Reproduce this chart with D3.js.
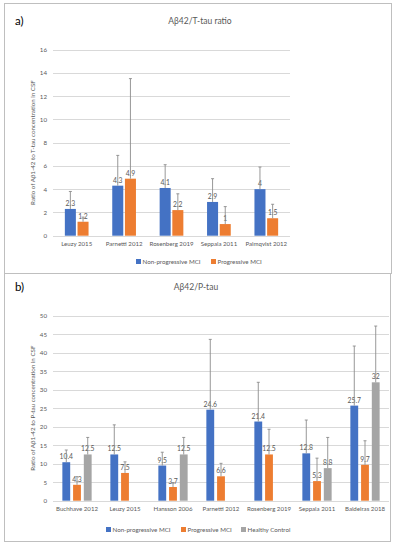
<!DOCTYPE html>
<html>
<head>
<meta charset="utf-8">
<script src="https://cdn.jsdelivr.net/npm/d3@7"></script>
<style>
  body { margin: 0; background: #fff; }
  svg { display: block; font-family: Lato, "Open Sans", sans-serif; }
  .tick text { fill: #595959; }
</style>
</head>
<body>
<svg id="chart" width="397" height="550"></svg>
<script>
// panel a) Aβ42/T-tau ratio
const studiesA = ['Leuzy 2015', 'Parnetti 2012', 'Rosenberg 2019', 'Seppala 2011', 'Palmqvist 2012'];
const nonProgA = [2.3, 4.3, 4.1, 2.9, 4];
const progA = [1.2, 4.9, 2.2, 1, 1.5];
const nonProgAErr = [1.5, 2.6, 2.0, 2.0, 1.9];
const progAErr = [0.4, 8.6, 1.4, 1.5, 1.2];
const ticksA = [0, 2, 4, 6, 8, 10, 12, 14, 16];

// panel b) Aβ42/P-tau
const studiesB = ['Buchhave 2012', 'Leuzy 2015', 'Hansson 2006', 'Parnetti 2012', 'Rosenberg 2019', 'Seppala 2011', 'Baldeiras 2018'];
const nonProgB = [10.4, 12.5, 9.5, 24.6, 21.4, 12.8, 25.7];
const progB = [4.3, 7.5, 3.7, 6.6, 12.5, 5.3, 9.7];
const healthyB = [12.5, null, 12.5, null, null, 8.8, 32];
const nonProgBErr = [3.3, 8, 3.6, 19, 10.6, 9, 16.1];
const progBErr = [2.2, 3, 1.2, 3.5, 6.8, 6.2, 6.5];
const healthyBErr = [4.6, null, 4.6, null, null, 8.3, 15.2];
const ticksB = [0, 5, 10, 15, 20, 25, 30, 35, 40, 45, 50];

const seriesNames = ['Non-progressive MCI', 'Progressive MCI', 'Healthy Control'];
const colors = ['#4472C4', '#ED7D31', '#A5A5A5'];

const svg = d3.select('#chart');

// frames
svg.append('rect').attr('x', 4.5).attr('y', 3.5).attr('width', 387).attr('height', 270)
  .attr('fill', 'none').attr('stroke', '#BFBFBF');
svg.append('rect').attr('x', 4.5).attr('y', 273.5).attr('width', 386).attr('height', 268)
  .attr('fill', 'none').attr('stroke', '#BFBFBF');

function drawPanel(cfg) {
  const g = svg.append('g');

  g.append('text')
    .attr('x', 15).attr('y', cfg.top - 25)
    .attr('font-size', 11.5).attr('fill', '#000')
    .text(cfg.letter);

  g.append('text')
    .attr('x', cfg.titleX).attr('y', cfg.top - 26)
    .attr('text-anchor', 'middle')
    .attr('font-size', 8.5).attr('fill', '#595959')
    .text(cfg.title);

  const y = d3.scaleLinear().domain([0, d3.max(cfg.ticks)]).range([cfg.bottom, cfg.top]);
  const x = d3.scaleBand().domain(cfg.studies).range([cfg.left, cfg.right])
    .paddingInner(cfg.padInner).paddingOuter(cfg.padInner / 2);
  const xs = d3.scaleBand().domain(d3.range(cfg.series.length)).range([0, x.bandwidth()])
    .paddingInner(cfg.barPad);

  // gridlines + y ticks
  g.append('g')
    .attr('class', 'grid')
    .selectAll('line')
    .data(cfg.ticks)
    .join('line')
    .attr('x1', cfg.left).attr('x2', cfg.gridRight)
    .attr('y1', d => Math.round(y(d)) + 0.5).attr('y2', d => Math.round(y(d)) + 0.5)
    .attr('stroke', '#D9D9D9');

  g.append('g')
    .attr('transform', `translate(${cfg.left - 4},0)`)
    .call(d3.axisLeft(y).tickValues(cfg.ticks).tickSize(0).tickPadding(2))
    .call(a => a.select('.domain').remove())
    .selectAll('text').attr('font-size', 6.2).attr('font-family', 'Lato, sans-serif');

  g.append('g')
    .attr('transform', `translate(0,${cfg.bottom})`)
    .call(d3.axisBottom(x).tickSize(0).tickPadding(6))
    .call(a => a.select('.domain').remove())
    .selectAll('text').attr('font-size', 6.1).attr('font-family', 'Lato, sans-serif');

  // y axis title
  g.append('text')
    .attr('transform', `translate(${cfg.axisTitleX},${(cfg.top + cfg.bottom) / 2}) rotate(-90)`)
    .attr('text-anchor', 'middle')
    .attr('font-size', 6.2).attr('fill', '#595959')
    .text(cfg.axisTitle);

  cfg.series.forEach((vals, si) => {
    const errs = cfg.errors[si];
    const sg = g.append('g');
    const rows = cfg.studies.map((s, i) => ({ s, v: vals[i], e: errs[i] })).filter(d => d.v != null);

    sg.selectAll('rect')
      .data(rows)
      .join('rect')
      .attr('x', d => x(d.s) + xs(si))
      .attr('y', d => y(d.v))
      .attr('width', xs.bandwidth())
      .attr('height', d => y(0) - y(d.v))
      .attr('fill', colors[si]);

    const cx = d => x(d.s) + xs(si) + xs.bandwidth() / 2;

    sg.selectAll('text.lbl')
      .data(rows)
      .join('text')
      .attr('class', 'lbl')
      .attr('x', cx)
      .attr('y', d => y(d.v) - 3)
      .attr('text-anchor', 'middle')
      .attr('font-size', 6.8).attr('fill', '#595959')
      .text(d => d.v);

    const eb = sg.selectAll('g.err').data(rows).join('g').attr('class', 'err');
    eb.append('line')
      .attr('x1', cx).attr('x2', cx)
      .attr('y1', d => y(d.v)).attr('y2', d => y(d.v + d.e))
      .attr('stroke', '#8C8C8C').attr('stroke-width', 0.9);
    eb.append('line')
      .attr('x1', d => cx(d) - 1.5).attr('x2', d => cx(d) + 1.5)
      .attr('y1', d => y(d.v + d.e)).attr('y2', d => y(d.v + d.e))
      .attr('stroke', '#8C8C8C').attr('stroke-width', 0.9);
  });

  // legend
  const lg = g.append('g').attr('transform', `translate(0,${cfg.legendY})`);
  cfg.series.forEach((_, si) => {
    lg.append('rect')
      .attr('x', cfg.legendX[si]).attr('y', -3)
      .attr('width', 5).attr('height', 5)
      .attr('fill', colors[si]);
    lg.append('text')
      .attr('x', cfg.legendX[si] + 6.5).attr('y', 2.2)
      .attr('font-size', 6.2).attr('fill', '#595959')
      .text(seriesNames[si]);
  });
}

drawPanel({
  letter: 'a)', title: 'Aβ42/T-tau ratio', titleX: 200,
  studies: studiesA, series: [nonProgA, progA], errors: [nonProgAErr, progAErr],
  ticks: ticksA, top: 49.5, bottom: 235.7, left: 53, right: 290, gridRight: 290,
  padInner: 0.5, barPad: 0.13,
  axisTitle: 'Ratio of Aβ1-42 to T-tau concentration in CSF', axisTitleX: 35,
  legendY: 262, legendX: [136, 211]
});

drawPanel({
  letter: 'b)', title: 'Aβ42/P-tau', titleX: 196,
  studies: studiesB, series: [nonProgB, progB, healthyB], errors: [nonProgBErr, progBErr, healthyBErr],
  ticks: ticksB, top: 315.7, bottom: 500.7, left: 53, right: 389, gridRight: 389,
  padInner: 0.39, barPad: 0.27,
  axisTitle: 'Ratio of Aβ1-42 to P-tau concentration in CSF', axisTitleX: 35,
  legendY: 530, legendX: [106, 181, 241]
});
</script>
</body>
</html>
